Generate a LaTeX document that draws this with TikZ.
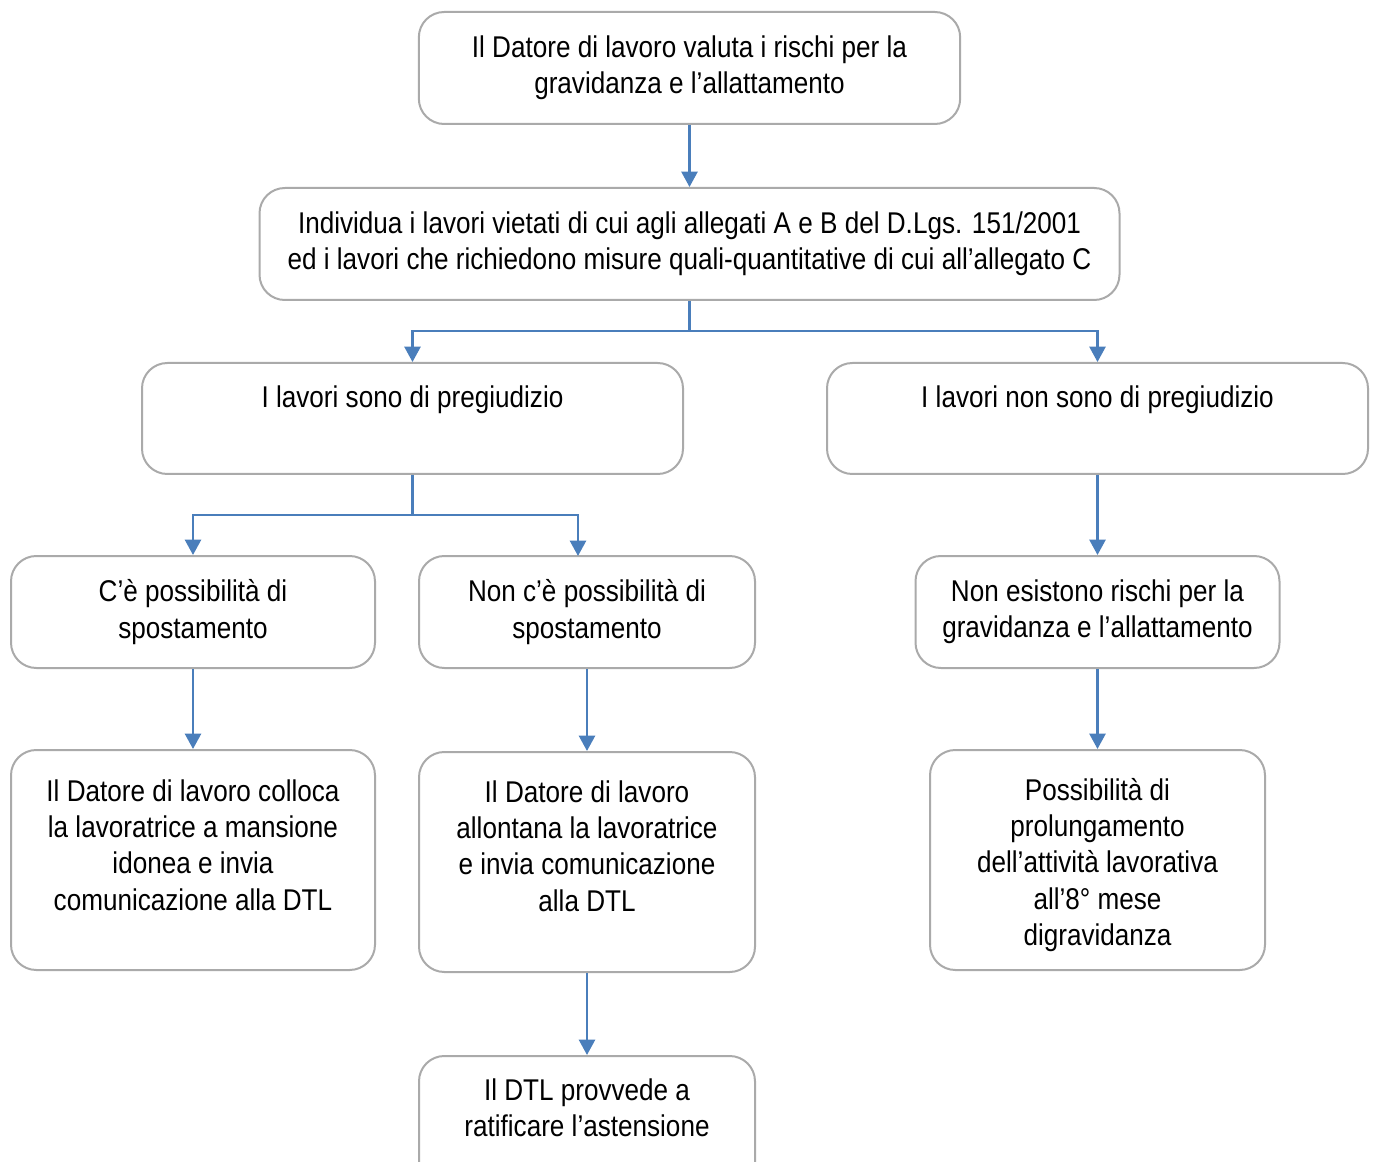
\documentclass[tikz,border=0pt]{standalone}
\usepackage{fontspec}
\setmainfont{Liberation Sans}[FakeStretch=0.87]
\usetikzlibrary{arrows.meta}
\definecolor{boxgray}{RGB}{170,170,170}
\definecolor{arrowblue}{RGB}{74,126,187}
\tikzset{
  box/.style={draw=boxgray, line width=1.5pt, rounded corners=19pt, fill=white, inner sep=0pt, align=center,
    font=\fontsize{22.5pt}{27.3pt}\selectfont},
  txt/.style={inner sep=0pt, align=center, font=\fontsize{22.5pt}{27.3pt}\selectfont},
  conn/.style={draw=arrowblue, line width=1.9pt},
  arr/.style={conn, -{Triangle[width=12pt,length=11.5pt]}}
}
\begin{document}
\begin{tikzpicture}[x=0.75pt,y=-0.75pt]
\useasboundingbox (0,0) rectangle (1375,1162);
% boxes
\node[box, minimum width=406pt, minimum height=84pt] (b1) at (689.5,68) {Il Datore di lavoro valuta i rischi per la\\gravidanza e l’allattamento};
\node[box, minimum width=645pt, minimum height=84pt] (b2) at (689.5,244) {Individua i lavori vietati di cui agli allegati A e B del D.Lgs. 151/2001\\ed i lavori che richiedono misure quali-quantitative di cui all’allegato C};
\node[box, minimum width=405.75pt, minimum height=83.25pt] (b3) at (412.5,418.5) {};
\node[txt] (t3) at (412.5,400) {I lavori sono di pregiudizio};
\node[box, minimum width=405.75pt, minimum height=83.25pt] (b4) at (1097.5,418.5) {};
\node[txt] (t4) at (1097.5,400) {I lavori non sono di pregiudizio};
\node[box, minimum width=273pt, minimum height=84pt] (b5) at (193,612) {C’è possibilità di\\spostamento};
\node[box, minimum width=252pt, minimum height=84pt] (b6) at (587,612) {Non c’è possibilità di\\spostamento};
\node[box, minimum width=273pt, minimum height=84pt] (b7) at (1097.5,612) {Non esistono rischi per la\\gravidanza e l’allattamento};
\node[box, minimum width=273pt, minimum height=165pt] (b8) at (193,860) {};
\node[txt] (t8) at (193,845) {Il Datore di lavoro colloca\\la lavoratrice a mansione\\idonea e invia\\comunicazione alla DTL};
\node[box, minimum width=252pt, minimum height=165pt] (b9) at (587,862) {};
\node[txt] (t9) at (587,846) {Il Datore di lavoro\\allontana la lavoratrice\\e invia comunicazione\\alla DTL};
\node[box, minimum width=251.25pt, minimum height=165pt] (b10) at (1097.5,860) {};
\node[txt] (t10) at (1097.5,865) {Possibilità di\\prolungamento\\dell’attività lavorativa\\all’8° mese\\digravidanza};
\node[box, minimum width=252pt, minimum height=105pt] (b11) at (587,1126) {};
\node[txt] (t11) at (587,1108) {Il DTL provvede a\\ratificare l’astensione};
% connectors
\coordinate (j1) at (689.5,331);
\coordinate (j2) at (412.5,515);
\coordinate (e6) at (578,556);
\draw[arr] (b1.south) -- (b2.north);
\draw[conn] (b2.south) -- (j1);
\draw[arr] (j1) -| (b3.north);
\draw[arr] (j1) -| (b4.north);
\draw[conn] (b3.south) -- (j2);
\draw[arr] (j2) -| (b5.north);
\draw[arr] (j2) -| (e6);
\draw[arr] (b4.south) -- (b7.north);
\draw[arr] (b5.south) -- (b8.north);
\draw[arr] (b6.south) -- (b9.north);
\draw[arr] (b7.south) -- (b10.north);
\draw[arr] (b9.south) -- (b11.north);
\end{tikzpicture}
\end{document}
